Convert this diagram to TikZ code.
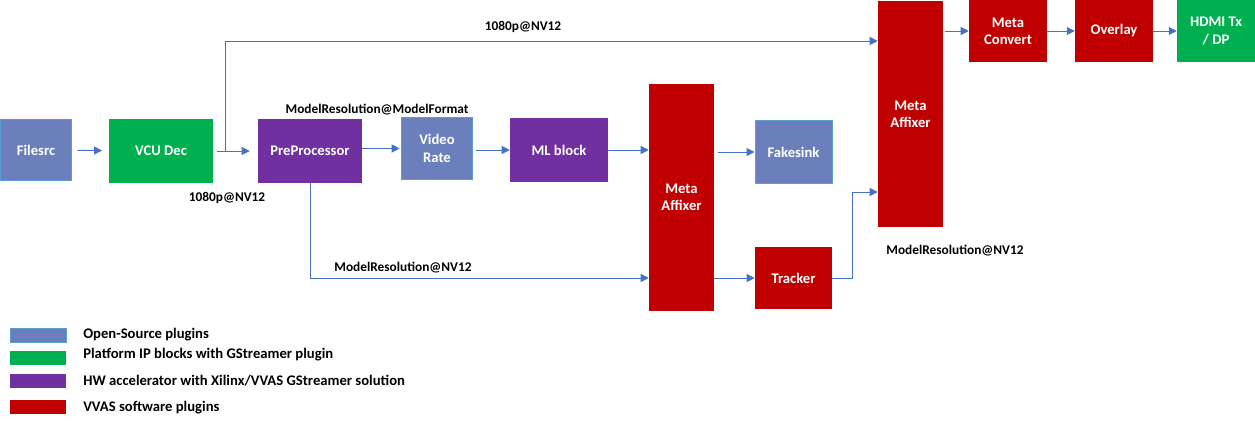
\documentclass[tikz,border=0pt]{standalone}
\usepackage{fontspec}
\setmainfont{Carlito}
\usetikzlibrary{arrows.meta}
\definecolor{osblue}{HTML}{6A7FBB}
\definecolor{osedge}{HTML}{5B9BD5}
\definecolor{ipgreen}{HTML}{00B050}
\definecolor{hwpurple}{HTML}{7030A0}
\definecolor{swred}{HTML}{C00000}
\definecolor{linkblue}{HTML}{4472C4}
\begin{document}
\begin{tikzpicture}[x=0.75pt,y=-0.75pt,
  dims/.style 2 args={minimum width=#1*0.75pt, minimum height=#2*0.75pt},
  block/.style={inner sep=0pt, align=center, text=white, font=\bfseries\fontsize{11}{13}\selectfont},
  osbox/.style={block, fill=osblue, draw=osedge, line width=0.75pt},
  ipbox/.style={block, fill=ipgreen},
  hwbox/.style={block, fill=hwpurple},
  swbox/.style={block, fill=swred},
  flow/.style={draw=linkblue, line width=0.75pt, -{Triangle[length=6pt,width=6pt]}},
  tag/.style={font=\bfseries\fontsize{10}{12}\selectfont, inner sep=0pt},
  keytext/.style={font=\bfseries\fontsize{11}{13}\selectfont, inner sep=0pt, anchor=west},
  swatch/.style={dims={56}{14}, inner sep=0pt}]
\useasboundingbox (0,0) rectangle (1255,425);
% main chain
\node[osbox, dims={71}{61}] (fs) at (36,150) {Filesrc};
\node[ipbox, dims={104}{64}] (vcu) at (161,151) {VCU Dec};
\node[hwbox, dims={104}{64}] (pre) at (310,151) {PreProcessor};
\node[osbox, dims={71}{62}] (vr) at (437,148.5) {Video\\Rate};
\node[hwbox, dims={98}{64}] (ml) at (559,150) {ML block};
\node[swbox, dims={65}{227}] (ma1) at (681.5,197.5) {Meta\\Affixer};
\node[osbox, dims={77}{63}] (fk) at (793.5,152) {Fakesink};
\node[swbox, dims={77}{62}] (tr) at (793.5,278) {Tracker};
\node[swbox, dims={65}{226}] (ma2) at (910.5,114) {Meta\\Affixer};
\node[swbox, dims={78}{62}] (mc) at (1008,31) {Meta\\Convert};
\node[swbox, dims={78}{62}] (ov) at (1114,31) {Overlay};
\node[ipbox, dims={78}{62}] (hd) at (1216,31) {HDMI Tx\\/ DP};
% connectors
\draw[flow, shorten <=4pt, shorten >=5pt] (fs) -- (vcu);
\draw[flow, shorten <=3pt, shorten >=6pt] (vcu) -- (pre);
\coordinate (tap) at (225,151);
\coordinate (up) at (225,41);
\draw[flow] (tap) -- (up) -- (up -| ma2.west);
\draw[flow, shorten >=1pt] (pre.east |- vr) -- (vr);
\draw[flow, shorten <=2pt] (vr.east |- ml) -- (ml);
\draw[flow] (ml) -- (ml -| ma1.west);
\draw[flow] (pre.south) |- (tr -| ma1.west);
\draw[flow, shorten <=3pt] (ma1.east |- fk) -- (fk);
\draw[flow] (ma1.east |- tr) -- (tr);
\coordinate (bend) at (852,192);
\draw[flow] (tr) -- (tr -| bend) -- (bend) -- (bend -| ma2.west);
\draw[flow, shorten <=1pt] (ma2.east |- mc) -- (mc);
\draw[flow] (mc) -- (ov);
\draw[flow] (ov) -- (hd);
% format labels
\node[tag] (l1) at (523,27) {1080p@NV12};
\node[tag] (l2) at (227,198) {1080p@NV12};
\node[tag] (l3) at (377,110) {ModelResolution@ModelFormat};
\node[tag] (l4) at (403,268) {ModelResolution@NV12};
\node[tag] (l5) at (955,251) {ModelResolution@NV12};
% legend
\node[swatch, fill=osblue, draw=osedge, line width=0.75pt] (k1) at (38,335) {};
\node[swatch, fill=ipgreen] (k2) at (38,357.5) {};
\node[swatch, fill=hwpurple] (k3) at (38,381) {};
\node[swatch, fill=swred] (k4) at (38,407) {};
\node[keytext] at (83,335) {Open-Source plugins};
\node[keytext] at (83,355) {Platform IP blocks with GStreamer plugin};
\node[keytext] at (83,381) {HW accelerator with Xilinx/VVAS GStreamer solution};
\node[keytext] at (83,408) {VVAS software plugins};
\end{tikzpicture}
\end{document}
